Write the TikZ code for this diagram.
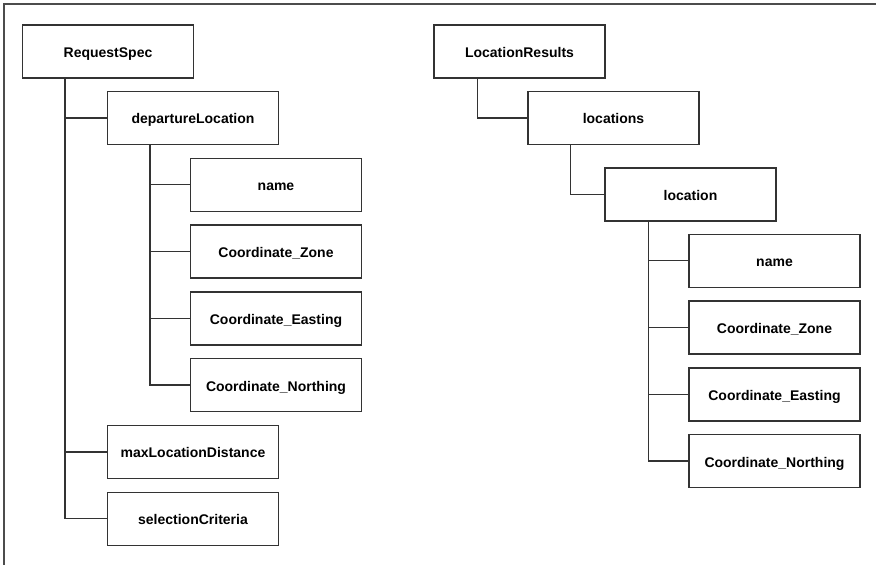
\documentclass[tikz,border=0pt]{standalone}
\usepackage{fontspec}
\setmainfont{Liberation Sans}
\usetikzlibrary{positioning}

\begin{document}
\begin{tikzpicture}[
    x=1pt, y=-1pt,
    node distance=12.4pt,
    font=\fontsize{14}{16}\selectfont\bfseries,
    field/.style={
      draw=black!80, rectangle, line width=1.4pt,
      minimum width=171pt, minimum height=53pt, inner sep=2pt,
      text height=12pt, text depth=0pt
    },
    link/.style={draw=black!80, line width=1.5pt},
    frame/.style={draw=black!70, line width=1.6pt}
  ]

    \useasboundingbox (0,0) rectangle (876,565);

    % --- Frame ---
    \draw[frame] (4,565) -- (4,4) -- (876,4);

    % --- RequestSpec tree ---
    \node[field] (req) at (108,51.5) {RequestSpec};
    \node[field, below=12pt of req.south west, anchor=north west, xshift=85pt] (dep)
    {departureLocation};
    \node[field, below=12.4pt of dep.south west, anchor=north west, xshift=83pt] (dname)
    {name};
    \node[field, below=of dname] (dzone) {Coordinate\_Zone};
    \node[field, below=of dzone] (deast) {Coordinate\_Easting};
    \node[field, below=of deast] (dnorth) {Coordinate\_Northing};
    \node[field, below=12.4pt of dnorth.south west, anchor=north west, xshift=-83pt] (maxd)
    {maxLocationDistance};
    \node[field, below=of maxd] (sel) {selectionCriteria};

    % --- LocationResults tree ---
    \node[field] (res) at (519.5,51.5) {LocationResults};
    \node[field, below=12pt of res.south west, anchor=north west, xshift=94pt] (locs)
    {locations};
    \node[field, below=22pt of locs.south west, anchor=north west, xshift=77pt] (loc)
    {location};
    \node[field, below=12pt of loc.south west, anchor=north west, xshift=84pt] (lname)
    {name};
    \node[field, below=of lname] (lzone) {Coordinate\_Zone};
    \node[field, below=of lzone] (least) {Coordinate\_Easting};
    \node[field, below=of least] (lnorth) {Coordinate\_Northing};

    % --- Links ---
    \foreach \c in {dep,maxd,sel}
      \draw[link] ([xshift=43pt]req.south west) |- (\c.west);
    \foreach \c in {dname,dzone,deast,dnorth}
      \draw[link] ([xshift=43pt]dep.south west) |- (\c.west);
    \draw[link] ([xshift=44pt]res.south west) |- (locs.west);
    \draw[link] ([xshift=43pt]locs.south west) |- (loc.west);
    \foreach \c in {lname,lzone,least,lnorth}
      \draw[link] ([xshift=44pt]loc.south west) |- (\c.west);

  \end{tikzpicture}
\end{document}
